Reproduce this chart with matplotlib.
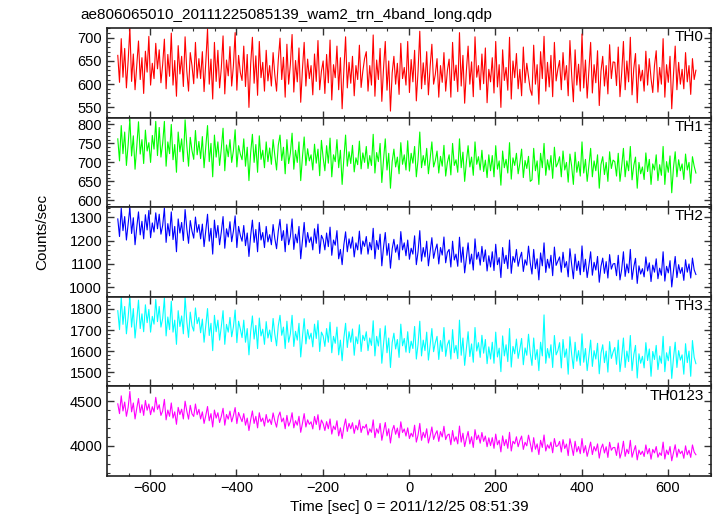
import numpy as np
import matplotlib
matplotlib.use("Agg")
import matplotlib.pyplot as plt
from matplotlib.ticker import MultipleLocator, AutoMinorLocator

plt.rcParams['font.family'] = ['Liberation Sans', 'DejaVu Sans']

# bin start and width of the light curve (sec)
t_start = -675
t_step = 4

title = "ae806065010_20111225085139_wam2_trn_4band_long.qdp"
names = ["TH0", "TH1", "TH2", "TH3", "TH0123"]
colors = ["#ff0000", "#00ff00", "#0000ff", "#00ffff", "#ff00ff"]

th0 = [
    662, 604, 698, 615, 677, 592, 650, 721, 606, 665, 588, 642, 693, 610, 657, 580, 671, 626, 703, 598, 645, 612, 688, 633,
    674, 603, 642, 697, 590, 664, 617, 710, 598, 651, 574, 683, 622, 660, 595, 702, 628, 585, 668, 640, 601, 690, 613, 655,
    612, 670, 584, 647, 719, 600, 654, 568, 690, 606, 673, 592, 635, 704, 579, 652, 618, 681, 596, 640, 711, 587, 662, 625,
    608, 682, 595, 664, 550, 643, 701, 602, 661, 576, 692, 614, 647, 585, 673, 607, 640, 596, 668, 620, 585, 652, 699, 610,
    658, 572, 686, 600, 642, 707, 583, 651, 605, 678, 561, 632, 690, 596, 654, 612, 640, 577, 665, 606, 694, 588, 628, 650,
    580, 664, 603, 695, 566, 642, 614, 682, 588, 657, 547, 630, 702, 592, 647, 602, 660, 575, 640, 610, 684, 593, 628, 655,
    670, 585, 640, 598, 706, 574, 652, 610, 677, 563, 635, 692, 587, 650, 542, 624, 660, 600, 645, 578, 688, 612, 636, 598,
    692, 582, 653, 605, 673, 564, 628, 714, 590, 646, 599, 670, 577, 638, 686, 600, 621, 655, 572, 640, 604, 668, 585, 630,
    654, 572, 690, 608, 641, 584, 711, 596, 662, 559, 629, 682, 600, 648, 573, 702, 615, 640, 588, 665, 601, 678, 560, 632,
    605, 657, 581, 692, 594, 642, 550, 674, 608, 636, 587, 701, 568, 650, 614, 666, 590, 632, 575, 680, 603, 645, 617, 588,
    576, 684, 600, 642, 557, 670, 612, 703, 585, 647, 594, 662, 573, 690, 607, 632, 651, 588, 668, 609, 640, 575, 694, 620,
    562, 674, 598, 643, 585, 708, 592, 652, 570, 630, 690, 581, 642, 603, 672, 554, 628, 660, 596, 640, 579, 685, 612, 648,
    647, 597, 680, 573, 624, 692, 588, 650, 605, 701, 577, 634, 666, 560, 642, 607, 630, 585, 671, 598, 655, 612, 582, 640,
    672, 583, 636, 600, 698, 572, 642, 604, 660, 547, 620, 682, 588, 647, 600, 632, 590, 668, 605, 640, 578, 655, 610, 630,
]

th1 = [
    762, 704, 797, 723, 780, 692, 747, 814, 717, 770, 682, 742, 807, 722, 760, 697, 785, 730, 752, 700, 771, 735, 808, 718,
    792, 714, 750, 808, 690, 754, 723, 800, 707, 747, 674, 780, 728, 762, 702, 812, 745, 690, 766, 731, 708, 784, 720, 755,
    710, 768, 686, 742, 797, 702, 750, 662, 772, 714, 754, 692, 737, 790, 678, 746, 715, 760, 700, 731, 786, 688, 744, 722,
    707, 762, 690, 740, 652, 726, 774, 700, 747, 674, 770, 708, 732, 686, 754, 702, 738, 695, 760, 718, 680, 745, 772, 705,
    740, 670, 760, 697, 724, 777, 682, 732, 700, 754, 652, 714, 767, 692, 736, 704, 720, 680, 748, 698, 735, 665, 758, 712,
    678, 744, 698, 764, 662, 720, 702, 760, 686, 732, 642, 710, 772, 690, 728, 697, 745, 675, 712, 694, 756, 683, 725, 700,
    742, 684, 718, 692, 774, 672, 726, 702, 750, 647, 708, 762, 680, 724, 632, 702, 735, 688, 714, 670, 752, 695, 720, 680,
    757, 677, 724, 698, 742, 662, 707, 780, 686, 718, 692, 737, 670, 710, 754, 688, 705, 730, 672, 716, 690, 745, 664, 700,
    720, 667, 750, 692, 707, 674, 762, 686, 727, 650, 702, 744, 688, 714, 666, 754, 695, 715, 680, 732, 676, 706, 660, 720,
    678, 718, 662, 744, 682, 704, 640, 730, 686, 708, 672, 752, 656, 712, 692, 724, 670, 698, 735, 660, 705, 684, 716, 650,
    654, 737, 678, 704, 642, 724, 686, 750, 666, 707, 680, 718, 658, 740, 688, 698, 715, 662, 730, 680, 700, 648, 722, 690,
    642, 727, 674, 702, 664, 754, 672, 708, 650, 692, 737, 662, 704, 678, 720, 632, 695, 715, 668, 700, 650, 728, 684, 706,
    702, 664, 724, 650, 690, 737, 662, 704, 678, 742, 654, 692, 714, 632, 700, 670, 688, 655, 725, 676, 708, 642, 696, 680,
    720, 652, 694, 666, 742, 642, 702, 674, 717, 620, 686, 728, 662, 707, 678, 696, 655, 722, 680, 700, 645, 715, 690, 672,
]

th2 = [
    1292, 1217, 1337, 1242, 1302, 1202, 1270, 1340, 1230, 1297, 1182, 1257, 1322, 1224, 1282, 1207, 1310, 1245, 1328, 1212, 1275, 1236, 1318, 1250,
    1312, 1227, 1264, 1338, 1192, 1272, 1220, 1322, 1204, 1260, 1152, 1292, 1232, 1277, 1200, 1332, 1250, 1188, 1285, 1240, 1210, 1300, 1235, 1268,
    1207, 1270, 1174, 1242, 1312, 1197, 1252, 1142, 1287, 1212, 1264, 1182, 1237, 1302, 1167, 1250, 1215, 1280, 1195, 1240, 1305, 1170, 1260, 1222,
    1197, 1264, 1178, 1232, 1132, 1220, 1287, 1192, 1247, 1152, 1277, 1202, 1234, 1170, 1260, 1194, 1225, 1182, 1268, 1208, 1165, 1240, 1290, 1200,
    1242, 1152, 1270, 1182, 1217, 1292, 1162, 1227, 1190, 1260, 1122, 1202, 1277, 1172, 1234, 1192, 1215, 1160, 1250, 1188, 1270, 1145, 1222, 1205,
    1160, 1232, 1174, 1257, 1137, 1202, 1180, 1242, 1122, 1162, 1097, 1182, 1237, 1152, 1207, 1167, 1215, 1130, 1190, 1160, 1240, 1142, 1198, 1175,
    1217, 1142, 1192, 1160, 1252, 1122, 1200, 1162, 1227, 1092, 1172, 1234, 1137, 1187, 1082, 1164, 1205, 1150, 1182, 1118, 1238, 1160, 1190, 1135,
    1202, 1120, 1167, 1142, 1220, 1097, 1152, 1242, 1112, 1170, 1130, 1197, 1092, 1152, 1212, 1124, 1160, 1185, 1100, 1170, 1138, 1215, 1105, 1150,
    1162, 1087, 1197, 1117, 1142, 1090, 1214, 1107, 1172, 1062, 1127, 1190, 1100, 1142, 1074, 1207, 1120, 1150, 1095, 1175, 1110, 1160, 1070, 1135,
    1087, 1152, 1072, 1184, 1097, 1127, 1042, 1170, 1102, 1137, 1080, 1202, 1060, 1132, 1107, 1162, 1090, 1125, 1150, 1068, 1118, 1095, 1176, 1105,
    1057, 1162, 1080, 1122, 1032, 1147, 1092, 1190, 1064, 1120, 1082, 1137, 1050, 1172, 1094, 1112, 1130, 1065, 1150, 1085, 1110, 1045, 1165, 1098,
    1037, 1142, 1072, 1112, 1054, 1177, 1067, 1120, 1042, 1094, 1152, 1052, 1107, 1074, 1132, 1022, 1090, 1125, 1060, 1110, 1040, 1140, 1078, 1100,
    1102, 1050, 1137, 1032, 1077, 1152, 1047, 1100, 1062, 1162, 1034, 1087, 1124, 1017, 1092, 1057, 1080, 1045, 1130, 1070, 1105, 1025, 1095, 1065,
    1122, 1037, 1082, 1052, 1152, 1027, 1090, 1062, 1114, 1002, 1070, 1132, 1042, 1097, 1060, 1085, 1030, 1118, 1065, 1100, 1040, 1125, 1075, 1055,
]

th3 = [
    1792, 1702, 1855, 1727, 1812, 1682, 1762, 1858, 1714, 1802, 1662, 1747, 1842, 1707, 1777, 1692, 1820, 1735, 1798, 1690, 1765, 1728, 1845, 1740,
    1812, 1714, 1754, 1852, 1672, 1762, 1702, 1837, 1690, 1747, 1632, 1792, 1717, 1767, 1682, 1856, 1740, 1665, 1785, 1720, 1695, 1805, 1730, 1760,
    1687, 1752, 1642, 1720, 1802, 1674, 1732, 1602, 1770, 1692, 1747, 1652, 1717, 1792, 1632, 1727, 1690, 1760, 1668, 1715, 1795, 1640, 1742, 1705,
    1664, 1747, 1642, 1707, 1582, 1692, 1767, 1657, 1722, 1612, 1757, 1672, 1704, 1632, 1740, 1662, 1700, 1645, 1755, 1680, 1625, 1720, 1770, 1675,
    1714, 1612, 1742, 1642, 1682, 1770, 1622, 1694, 1652, 1732, 1572, 1667, 1754, 1634, 1702, 1657, 1685, 1620, 1728, 1660, 1745, 1598, 1690, 1672,
    1622, 1707, 1642, 1737, 1592, 1670, 1637, 1714, 1582, 1652, 1554, 1662, 1732, 1617, 1692, 1642, 1705, 1580, 1668, 1635, 1725, 1598, 1675, 1650,
    1692, 1602, 1662, 1627, 1744, 1577, 1670, 1624, 1707, 1542, 1634, 1720, 1592, 1662, 1522, 1640, 1685, 1610, 1655, 1570, 1728, 1625, 1660, 1595,
    1692, 1592, 1647, 1612, 1717, 1562, 1632, 1742, 1577, 1652, 1602, 1690, 1557, 1627, 1707, 1597, 1640, 1670, 1560, 1650, 1598, 1712, 1575, 1630,
    1652, 1562, 1702, 1592, 1627, 1564, 1747, 1580, 1662, 1532, 1612, 1692, 1574, 1634, 1547, 1712, 1600, 1640, 1570, 1675, 1590, 1655, 1540, 1620,
    1562, 1642, 1542, 1690, 1572, 1614, 1502, 1672, 1577, 1630, 1550, 1707, 1524, 1622, 1587, 1657, 1565, 1610, 1660, 1535, 1615, 1580, 1680, 1590,
    1532, 1662, 1560, 1607, 1507, 1642, 1577, 1772, 1542, 1612, 1567, 1630, 1522, 1674, 1582, 1602, 1640, 1520, 1655, 1570, 1610, 1490, 1668, 1585,
    1517, 1642, 1552, 1602, 1532, 1682, 1547, 1612, 1507, 1577, 1652, 1527, 1602, 1562, 1637, 1492, 1590, 1630, 1545, 1600, 1500, 1645, 1565, 1595,
    1617, 1537, 1652, 1502, 1572, 1662, 1522, 1600, 1550, 1674, 1507, 1582, 1627, 1472, 1587, 1542, 1575, 1520, 1640, 1555, 1610, 1480, 1598, 1560,
    1627, 1512, 1577, 1542, 1670, 1502, 1592, 1554, 1622, 1470, 1567, 1642, 1522, 1602, 1557, 1582, 1490, 1635, 1545, 1600, 1480, 1650, 1570, 1540,
]

th0123 = [
    4472, 4362, 4562, 4392, 4492, 4332, 4432, 4612, 4382, 4482, 4302, 4422, 4532, 4372, 4462, 4342, 4510, 4400, 4470, 4350, 4440, 4380, 4545, 4410,
    4462, 4342, 4392, 4522, 4292, 4402, 4332, 4482, 4312, 4382, 4242, 4432, 4352, 4412, 4302, 4502, 4390, 4300, 4455, 4360, 4330, 4470, 4350, 4410,
    4302, 4382, 4252, 4342, 4442, 4282, 4362, 4212, 4402, 4312, 4372, 4262, 4332, 4422, 4232, 4352, 4300, 4390, 4270, 4340, 4430, 4250, 4375, 4320,
    4272, 4362, 4232, 4312, 4172, 4292, 4392, 4252, 4332, 4202, 4372, 4272, 4312, 4222, 4352, 4262, 4300, 4240, 4370, 4280, 4210, 4330, 4380, 4270,
    4312, 4192, 4342, 4222, 4272, 4372, 4202, 4282, 4232, 4332, 4152, 4252, 4362, 4212, 4292, 4242, 4270, 4190, 4330, 4240, 4350, 4180, 4290, 4250,
    4172, 4272, 4192, 4302, 4132, 4222, 4182, 4282, 4112, 4202, 4082, 4212, 4302, 4162, 4252, 4192, 4260, 4140, 4230, 4180, 4290, 4150, 4220, 4200,
    4242, 4122, 4192, 4152, 4292, 4092, 4192, 4142, 4252, 4062, 4162, 4262, 4112, 4192, 4032, 4172, 4230, 4130, 4200, 4090, 4270, 4150, 4190, 4110,
    4202, 4082, 4142, 4102, 4232, 4042, 4122, 4252, 4062, 4152, 4092, 4192, 4032, 4112, 4212, 4072, 4130, 4170, 4050, 4160, 4100, 4220, 4070, 4120,
    4132, 4012, 4172, 4052, 4102, 4022, 4222, 4042, 4142, 3992, 4082, 4162, 4022, 4102, 3982, 4182, 4070, 4120, 4030, 4150, 4050, 4110, 3990, 4090,
    4002, 4092, 3972, 4132, 4012, 4062, 3932, 4112, 4002, 4072, 3972, 4152, 3942, 4052, 4022, 4102, 3990, 4060, 4110, 3960, 4040, 4000, 4120, 4030,
    3932, 4092, 3962, 4022, 3902, 4062, 3982, 4122, 3942, 4012, 3972, 4042, 3922, 4082, 3992, 4002, 4050, 3930, 4070, 3970, 4020, 3890, 4080, 3990,
    3892, 4052, 3932, 3992, 3912, 4082, 3922, 4002, 3882, 3962, 4042, 3902, 3992, 3942, 4022, 3862, 3970, 4020, 3920, 3990, 3870, 4040, 3950, 3980,
    3982, 3892, 4032, 3862, 3932, 4052, 3882, 3962, 3912, 4062, 3872, 3942, 4002, 3842, 3952, 3902, 3940, 3880, 4010, 3910, 3970, 3850, 3960, 3920,
    3992, 3872, 3922, 3892, 4042, 3852, 3952, 3902, 3992, 3832, 3922, 4012, 3872, 3962, 3912, 3942, 3860, 4000, 3900, 3950, 3870, 4010, 3930, 3900,
]

series = [th0, th1, th2, th3, th0123]
ylims = [(528, 721), (582, 818), (960, 1342), (1432, 1858), (3661, 4668)]
ymajor = [50, 50, 100, 100, 500]

W, H = 717, 516
fig = plt.figure(figsize=(W / 100, H / 100), dpi=100)

left, right = 107, 711
top, bottom = 28, 476
ph = (bottom - top) / 5.0

axes = []
for i in range(5):
    y0 = top + ph * i
    ax = fig.add_axes([left / W, 1 - (y0 + ph) / H, (right - left) / W, ph / H])
    y = np.array(series[i], dtype=float)
    t = t_start + t_step * np.arange(len(y))
    ax.plot(t, y, color=colors[i], lw=0.8)
    ax.set_xlim(-700, 700)
    ax.set_ylim(*ylims[i])
    ax.xaxis.set_major_locator(MultipleLocator(200))
    ax.xaxis.set_minor_locator(MultipleLocator(50))
    ax.yaxis.set_major_locator(MultipleLocator(ymajor[i]))
    ax.yaxis.set_minor_locator(AutoMinorLocator(5))
    ax.tick_params(which='both', direction='in', top=True, right=True,
                   labelsize=10.5, colors='#333333', labelcolor='black')
    ax.tick_params(which='major', length=5, width=1.0)
    ax.tick_params(which='minor', length=2.5, width=0.8)
    if i < 4:
        ax.tick_params(labelbottom=False)
    for s in ax.spines.values():
        s.set_color('#222222')
        s.set_linewidth(1.2)
    ax.text(0.988, 0.975, names[i], transform=ax.transAxes, ha='right', va='top',
            fontsize=11)
    axes.append(ax)

fig.text(80 / W, 1 - 15 / H, title, ha='left', va='center', fontsize=11)
fig.text(42 / W, 1 - 232 / H, "Counts/sec", rotation=90, ha='center', va='center',
         fontsize=11)
fig.text(409 / W, 1 - 507 / H, "Time [sec] 0 = 2011/12/25 08:51:39", ha='center',
         va='center', fontsize=11)

fig.savefig("out.png", dpi=100)
